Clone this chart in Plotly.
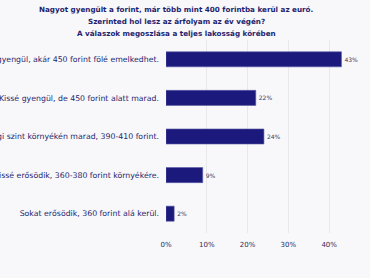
import plotly.graph_objects as go

categories = [
    "Nagyon gyengül, akár 450 forint fölé emelkedhet.",
    "Kissé gyengül, de 450 forint alatt marad.",
    "A jelenlegi szint környékén marad, 390-410 forint.",
    "Kissé erősödik, 360-380 forint környékére.",
    "Sokat erősödik, 360 forint alá kerül.",
]
values = [43, 22, 24, 9, 2]
text_labels = ["43%", "22%", "24%", "9%", "2%"]
tick_vals = [0, 10, 20, 30, 40, 50]
tick_text = ["0%", "10%", "20%", "30%", "40%", "50%"]
title_lines = [
    "Nagyot gyengült a forint, már több mint 400 forintba kerül az euró.",
    "Szerinted hol lesz az árfolyam az év végén?",
    "A válaszok megoszlása a teljes lakosság körében",
]

W, H = 370, 278
L, R, T, B = 166, 0, 40, 45

fig = go.Figure(go.Bar(
    x=values, y=categories, orientation="h",
    marker=dict(color="#1b1a7c", line=dict(color="#5a5aa8", width=0.6)),
    width=0.39,
    text=text_labels, textposition="outside",
    textfont=dict(size=6, color="#3a3a5a", family="DejaVu Sans"),
    cliponaxis=False,
))

plot_w = W - L - R
plot_h = H - T - B
for i, line in enumerate(title_lines):
    y_px = 10 + i * 11.5
    fig.add_annotation(
        text="<b>" + line + "</b>", showarrow=False,
        xref="paper", x=(176 - L) / plot_w, xanchor="center",
        yref="paper", y=1 + (T - y_px) / plot_h, yanchor="middle",
        font=dict(size=7.2, color="#1f1f6e", family="DejaVu Sans"),
    )

fig.update_layout(
    width=W, height=H,
    margin=dict(l=L, r=R, t=T, b=B, autoexpand=False),
    paper_bgcolor="#f8f8fa", plot_bgcolor="#f8f8fa",
    font=dict(family="DejaVu Sans", color="#1f1f6e"),
    xaxis=dict(
        range=[0, 50], tickvals=tick_vals, ticktext=tick_text,
        showgrid=True, gridcolor="#e8e8ec", gridwidth=1, zeroline=False,
        tickfont=dict(size=7, color="#2a2a5a"), ticklen=0, ticks="",
        automargin=False, ticklabelstandoff=6,
    ),
    yaxis=dict(
        autorange="reversed", showgrid=False, ticks="", ticklen=0,
        tickfont=dict(size=7.8, color="#1f1f6e"),
        automargin=False, ticklabelstandoff=6,
    ),
    showlegend=False,
)

fig.write_html("out.html")
